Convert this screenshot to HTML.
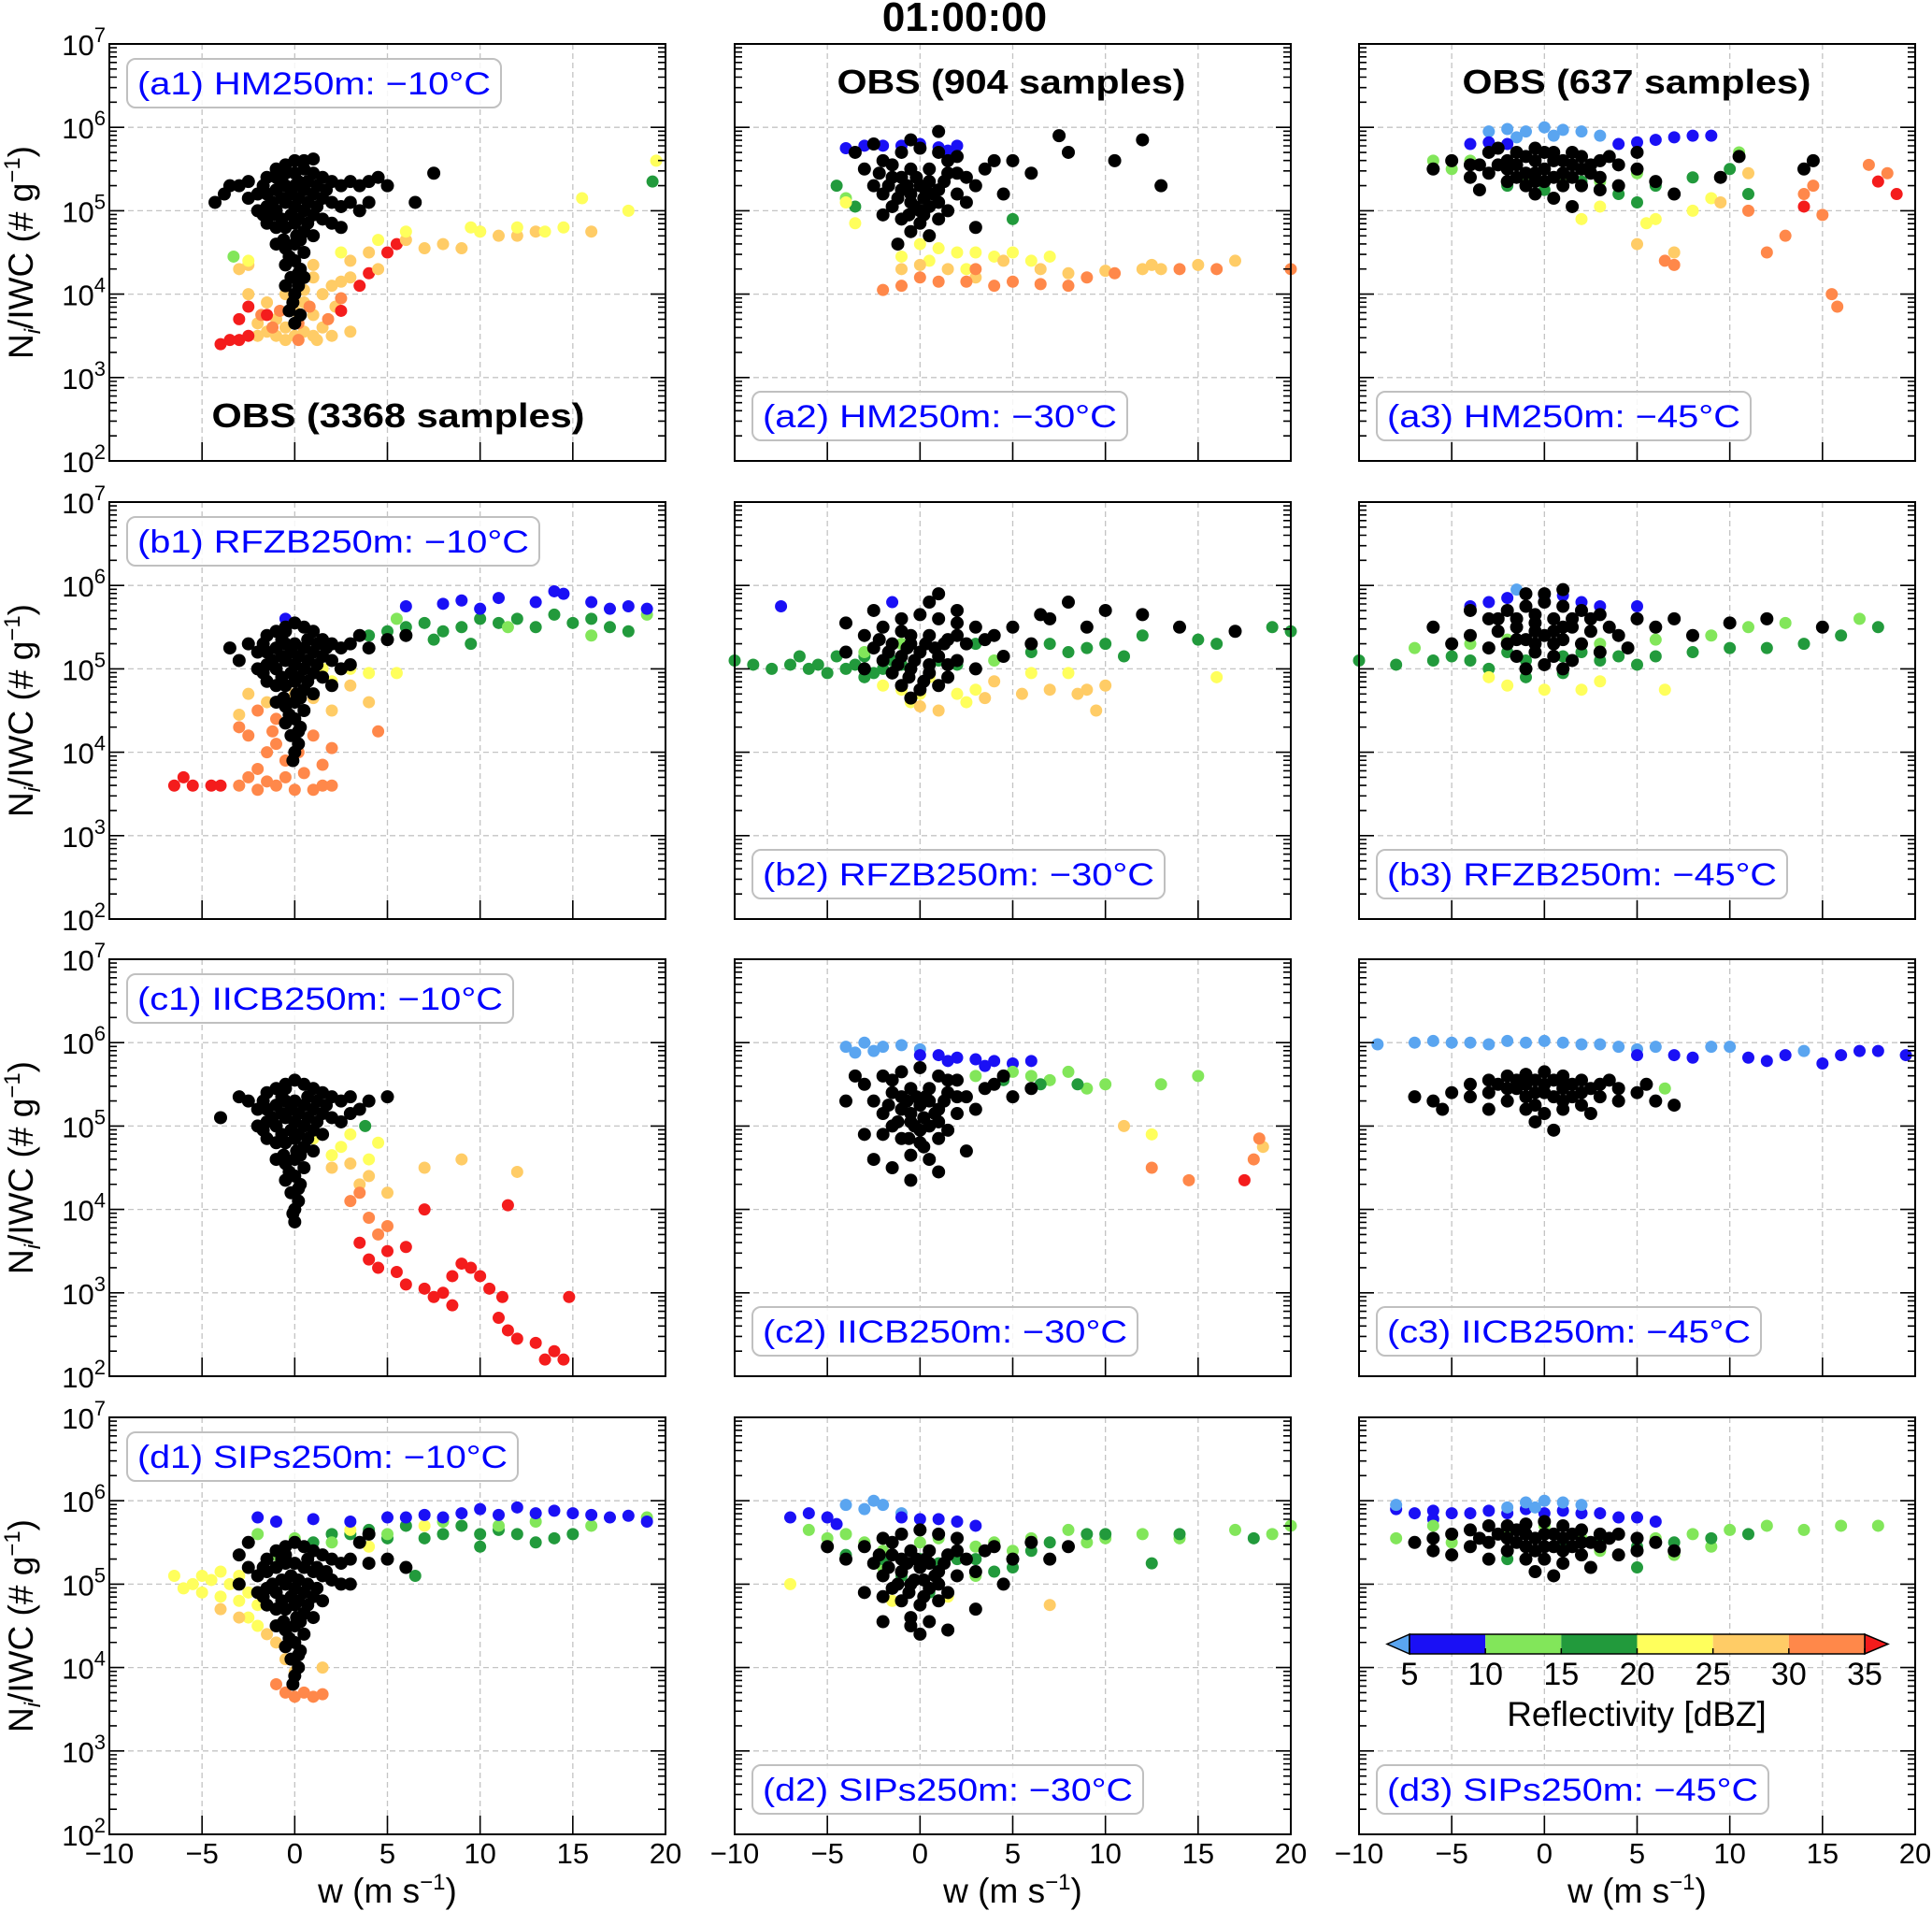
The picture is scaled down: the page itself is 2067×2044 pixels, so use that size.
<!DOCTYPE html>
<html><head><meta charset="utf-8"><style>
html,body{margin:0;padding:0;background:#fff}
svg{display:block}
text{font-family:"Liberation Sans","DejaVu Sans",sans-serif}
</style></head><body>
<svg id="fig" width="2067" height="2044" viewBox="0 0 2067 2044" xmlns="http://www.w3.org/2000/svg">
<text x="1032" y="33" font-size="44" font-weight="bold" text-anchor="middle">01:00:00</text>
</svg>
<script>
function P(s){return s.trim().split(/\s+/).map(function(t){return t.split(',').map(Number);});}
// observation clouds: [w, log10(Ni/IWC)]
const obsA1 = P("-1.5,5.4 -1,5.5 -0.5,5.55 0,5.6 0.5,5.5 1,5.45 1.5,5.4 2,5.35 2.5,5.3 3,5.35 3.5,5.3 4,5.35 4.5,5.4 5,5.3 -2,5.2 -1.5,5.2 -1,5.25 -0.5,5.3 0,5.3 0.5,5.25 1,5.2 1.5,5.15 2,5.1 2.5,5.05 3,5.1 3.5,5.0 4,5.1 -2,5.0 -1.5,5.05 -1,5.0 -0.5,5.1 0,5.05 0.5,5.0 1,4.95 1.5,4.9 2,4.85 2.5,4.8 -1.5,4.85 -1,4.8 -0.5,4.8 0,4.85 0.5,4.75 1,4.7 -1,4.6 -0.5,4.55 0,4.6 0.5,4.5 -0.5,4.35 0,4.4 0.3,4.3 -0.2,4.2 0.2,4.1 0,4.0 -0.3,3.8 0.3,3.75 -1,5.4 0,5.45 -2.5,5.35 -3,5.3 -2.5,5.15 -4.3,5.1 -3.5,5.3 -3.8,5.2 6.5,5.1 7.5,5.45 1,5.62 0.5,5.6 -0.7,5.15 0.7,5.1 -0.2,4.95 0.3,4.65 -1.2,4.95 1.2,5.3 -0.5,5.45 0.2,5.35 -1.7,5.3 -1.2,5.1 -0.7,5.35 -0.2,5.2 0.2,5.15 0.7,5.35 1.2,5.05 1.7,5.25 -1.7,4.95 -0.7,4.9 0.2,4.9 0.7,4.85 -0.6,4.65 0.1,4.7 -0.3,4.45 0.2,4.25 -0.1,3.9 0,3.65 -0.5,4.1 0.5,4.2");
const obsA2 = P("-3,5.5 -2,5.6 -1,5.7 0,5.75 1,5.7 2,5.65 -2.5,5.3 -1.5,5.4 -0.5,5.5 0.5,5.5 1.5,5.45 2.5,5.4 3.5,5.5 -2,5.2 -1,5.25 0,5.3 1,5.25 2,5.2 -1.5,5.05 -0.5,5.1 0.5,5.05 1.5,5.0 2.5,5.1 -1,4.9 0,4.85 1,4.9 -0.5,4.75 0.5,4.7 -2,4.95 3,5.3 4,5.6 5,5.6 6,5.45 -3.5,5.7 -2.5,5.8 -0.5,5.85 1,5.95 7.5,5.9 10.5,5.6 12,5.85 13,5.3 8,5.7 3,4.8 -1.2,4.6 0.2,5.15 -0.2,5.4 4.5,5.2 -1,5.4 0.5,5.35 -0.5,5.2 1,5.1 0,5.0 -1.5,5.55 1.5,5.6 -1.7,5.3 -0.7,5.3 0.3,5.25 0.7,5.2 -0.3,5.05 -1.2,5.15 1.3,5.35 0.2,4.95 -0.6,4.95 2,5.45 -2.2,5.45");
const obsA3 = P("-6,5.5 -5,5.6 -4,5.55 -3,5.7 -2,5.6 -1,5.65 0,5.7 1,5.6 2,5.65 3,5.6 4,5.55 5,5.5 -4,5.4 -3,5.45 -2,5.5 -1,5.45 0,5.5 1,5.45 2,5.5 3,5.4 -2,5.35 -1,5.3 0,5.35 1,5.3 2,5.3 -0.5,5.2 0.5,5.15 -3.5,5.25 4,5.3 6,5.35 7,5.2 9.5,5.4 10.5,5.65 14,5.5 14.5,5.6 -2.5,5.75 0.5,5.6 1.5,5.05 -0.5,5.75 1.5,5.7 -1.5,5.55 5,5.7 3,5.25 -0.5,5.6 0.5,5.4 -1.5,5.4 2.5,5.55 -2.5,5.55 -1.5,5.7 -0.5,5.45 0.5,5.7 1.5,5.55 2.5,5.45 3.5,5.65 -3.5,5.55 -0.5,5.35 1.5,5.4");
const obsB1 = P("-1.5,5.4 -1,5.45 -0.5,5.5 0,5.55 0.5,5.5 1,5.45 1.5,5.35 2,5.3 2.5,5.25 3,5.3 4,5.25 -2,5.2 -1.5,5.2 -1,5.25 -0.5,5.3 0,5.3 0.5,5.25 1,5.2 1.5,5.15 2,5.1 2.5,5.0 3,5.05 -2,5.0 -1.5,5.05 -1,5.0 -0.5,5.1 0,5.05 0.5,5.0 1,4.95 1.5,4.9 2,4.8 -1.5,4.85 -1,4.8 -0.5,4.8 0,4.85 0.5,4.75 1,4.7 -1,4.6 -0.5,4.55 0,4.6 0.5,4.5 -0.5,4.35 0,4.4 0.3,4.3 -0.2,4.2 0.2,4.1 0,4.0 -2.5,5.3 -3.5,5.25 -3,5.1 5,5.35 6,5.4 -0.7,5.15 0.7,5.1 -0.2,4.95 0.3,4.65 1.2,5.3 -0.5,5.45 3.5,5.4 -1.7,5.3 -1.2,5.1 -0.7,5.35 -0.2,5.2 0.2,5.15 0.7,5.35 1.2,5.05 1.7,5.25 -1.7,4.95 -0.7,4.9 0.2,4.9 0.7,4.85 -0.6,4.65 0.1,4.7 -0.3,4.45 0.2,4.25 -0.1,3.9");
const obsB2 = P("-3,5.4 -2,5.5 -1,5.6 0,5.65 1,5.6 2,5.55 3,5.5 -2.5,5.25 -1.5,5.3 -0.5,5.4 0.5,5.4 1.5,5.35 2.5,5.3 3.5,5.35 -2,5.1 -1,5.15 0,5.2 1,5.15 2,5.1 -1.5,4.95 -0.5,5.0 0.5,4.95 1.5,4.9 -1,4.8 0,4.75 1,4.8 -0.5,4.65 -4,5.2 4,5.4 5,5.5 6,5.3 7,5.6 -4,5.55 -2.5,5.7 0.5,5.8 1,5.9 8,5.8 9,5.5 10,5.7 12,5.65 14,5.5 17,5.45 3,5.0 -0.5,5.3 0.5,5.05 -1,5.45 4.5,5.15 -3,5.0 6.5,5.65 2,5.7 -1.7,5.2 -0.7,5.25 0.3,5.3 0.8,5.25 -0.3,5.1 -1.2,5.05 1.3,5.3 0.2,4.85 -0.6,4.9 2,5.4 -2.2,5.35 1.5,5.05");
const obsB3 = P("-3,5.6 -2,5.7 -1,5.75 0,5.8 1,5.75 2,5.7 3,5.65 -2.5,5.45 -1.5,5.5 -0.5,5.55 0.5,5.6 1.5,5.5 2.5,5.45 3.5,5.5 -2,5.3 -1,5.35 0,5.4 1,5.35 2,5.3 -1.5,5.15 -0.5,5.2 0.5,5.15 1.5,5.1 -1,5.0 0,5.05 1,5.0 -4,5.4 4,5.4 5,5.6 6,5.5 7,5.6 -4,5.7 -1,5.9 1,5.95 -5,5.3 8,5.4 10,5.55 12,5.6 15,5.5 -6,5.5 3,5.2 -0.5,5.65 0.5,5.45 -1.5,5.6 4.5,5.25 -3,5.25 0,5.9 -2.5,5.6 -1.5,5.35 -0.5,5.45 0.5,5.3 1.5,5.6 2.5,5.6 -0.5,5.3 1,5.5");
const obsC1 = P("-1.5,5.4 -1,5.45 -0.5,5.5 0,5.55 0.5,5.5 1,5.45 1.5,5.4 2,5.35 2.5,5.3 3,5.35 4,5.3 5,5.35 -2,5.2 -1.5,5.2 -1,5.25 -0.5,5.3 0,5.3 0.5,5.25 1,5.2 1.5,5.15 2,5.1 2.5,5.05 3,5.15 -2,5.0 -1.5,5.05 -1,5.0 -0.5,5.1 0,5.05 0.5,5.0 1,4.95 1.5,4.9 -1.5,4.85 -1,4.8 -0.5,4.8 0,4.85 0.5,4.75 1,4.7 -1,4.6 -0.5,4.55 0,4.6 0.5,4.5 -0.5,4.35 0,4.4 0.3,4.3 -0.2,4.2 0.2,4.1 0,4.0 0,3.85 -2.5,5.3 -4,5.1 -3,5.35 -0.7,5.15 0.7,5.1 -0.2,4.95 0.3,4.65 1.2,5.3 -0.5,5.45 3.5,5.2 -1.7,5.3 -1.2,5.1 -0.7,5.35 -0.2,5.2 0.2,5.15 0.7,5.35 1.2,5.05 1.7,5.25 -1.7,4.95 -0.7,4.9 0.2,4.9 0.7,4.85 -0.6,4.65 0.1,4.7 -0.3,4.45 0.2,4.25 -0.1,3.95");
const obsC2 = P("-3,5.5 -2,5.6 -1,5.65 0,5.7 1,5.6 2,5.55 -2.5,5.3 -1.5,5.4 -0.5,5.45 0.5,5.45 1.5,5.4 2.5,5.35 3.5,5.45 -2,5.15 -1,5.2 0,5.25 1,5.2 2,5.15 -1.5,5.0 -0.5,5.05 0.5,5.0 1.5,4.95 -1,4.85 0,4.8 1,4.85 -0.5,4.65 0.5,4.6 -2,4.9 3,5.2 4,5.5 5,5.35 -3.5,5.6 -4,5.3 -3,4.9 -2.5,4.6 -1.5,4.5 1,4.45 -0.5,4.35 2.5,4.7 4.5,5.6 6,5.45 0.2,5.1 -0.2,5.35 -1,5.35 0.5,5.3 -0.5,5.15 1,5.05 0,4.95 -1.5,5.55 1.5,5.55 -1.7,5.25 -0.7,5.3 0.3,5.35 0.8,5.15 -0.3,5.0 -1.2,5.05 1.3,5.3 0.2,4.75 -0.6,4.85 2,5.35");
const obsC3 = P("-6,5.3 -5,5.4 -4,5.5 -3,5.55 -2,5.6 -1,5.62 0,5.65 1,5.6 2,5.55 3,5.5 4,5.45 5,5.4 6,5.3 -4,5.35 -3,5.4 -2,5.45 -1,5.5 0,5.5 1,5.45 2,5.4 3,5.35 -2,5.3 -1,5.35 0,5.4 1,5.3 2,5.25 -1,5.2 0,5.15 1,5.2 -0.5,5.05 0.5,4.95 -3,5.2 4,5.3 7,5.25 -7,5.35 -5.5,5.2 -0.5,5.55 0.5,5.55 -1.5,5.45 1.5,5.5 2.5,5.15 3.5,5.55 5.5,5.5 -2.5,5.5 -1.5,5.55 -0.5,5.4 0.5,5.35 1.5,5.35 2.5,5.45 -0.5,5.25 1,5.5");
const obsD1 = P("-1.5,5.3 -1,5.4 -0.5,5.45 0,5.5 0.5,5.45 1,5.4 1.5,5.35 2,5.3 2.5,5.25 3,5.3 4,5.25 5,5.3 -2,5.1 -1.5,5.15 -1,5.2 -0.5,5.25 0,5.25 0.5,5.2 1,5.15 1.5,5.1 2,5.05 2.5,5.0 3,5.0 -2,4.9 -1.5,4.95 -1,4.9 -0.5,5.0 0,4.95 0.5,4.9 1,4.85 1.5,4.8 -1.5,4.75 -1,4.7 -0.5,4.7 0,4.75 0.5,4.65 1,4.6 -1,4.5 -0.5,4.45 0,4.5 0.5,4.4 -0.5,4.25 0,4.3 0.3,4.2 -0.2,4.1 0.2,4.0 0,3.9 -2.5,5.2 -3,5.35 -2.5,5.5 3.5,5.5 4,5.6 6,5.2 -0.7,5.05 0.7,5.0 -0.2,4.85 0.3,4.55 1.2,5.2 -0.5,5.35 -3,5.0 -1.7,5.2 -1.2,5.0 -0.7,5.3 -0.2,5.1 0.2,5.05 0.7,5.3 1.2,4.95 1.7,5.15 -1.7,4.85 -0.7,4.8 0.2,4.8 0.7,4.75 -0.6,4.55 0.1,4.6 -0.3,4.35 0.2,4.15 -0.1,3.8");
const obsD2 = P("-3,5.45 -2,5.55 -1,5.6 0,5.65 1,5.6 2,5.55 -2.5,5.25 -1.5,5.35 -0.5,5.4 0.5,5.4 1.5,5.35 2.5,5.3 3.5,5.4 -2,5.1 -1,5.15 0,5.2 1,5.15 2,5.1 -1.5,4.95 -0.5,5.0 0.5,4.95 1.5,4.9 -1,4.8 0,4.75 1,4.8 -0.5,4.6 0.5,4.55 -2,4.85 3,5.15 4,5.45 5,5.3 6,5.5 -4,5.3 -5,5.45 -3,4.9 -2,4.55 1.5,4.45 0,4.4 -0.5,4.5 3,4.7 4.5,5.0 -0.2,5.3 0.2,5.05 -1,5.3 0.5,5.25 1,5.0 -1.5,5.5 7,5.3 8,5.45 -1.7,5.2 -0.7,5.25 0.3,5.3 0.8,5.1 -0.3,5.05 -1.2,5.0 1.3,5.25 0.2,4.85 -0.6,4.9 2,5.4 -2.2,5.35");
const obsD3 = P("-7,5.5 -6,5.55 -5,5.6 -4,5.65 -3,5.7 -2,5.7 -1,5.72 0,5.75 1,5.7 2,5.65 3,5.6 4,5.6 5,5.55 6,5.5 -4,5.45 -3,5.5 -2,5.55 -1,5.6 0,5.6 1,5.55 2,5.5 3,5.45 -2,5.4 -1,5.45 0,5.45 1,5.4 2,5.35 -1,5.3 0,5.3 1,5.25 -0.5,5.15 0.5,5.1 -3,5.3 4,5.35 7,5.4 -5,5.35 -6,5.4 -0.5,5.55 0.5,5.6 -1.5,5.5 1.5,5.45 2.5,5.2 3.5,5.55 5,5.4 -2.5,5.6 -1.5,5.65 -0.5,5.4 0.5,5.45 1.5,5.6 2.5,5.5 -3.5,5.55");
// model points: [w, log10(Ni/IWC), reflectivity dBZ]
const modA1 = P("-2,3.5,28 -1.5,3.55,28 -1,3.5,28 -0.5,3.6,28 0,3.5,28 0.5,3.55,28 1,3.5,28 1.5,3.6,28 2,3.5,28 -1,3.7,28 0,3.8,28 0.5,3.9,28 1,3.75,28 1.5,4.0,28 2,4.1,28 2.5,4.15,28 3,4.2,28 -1.5,3.9,28 -2.5,4.0,28 -2,3.65,28 1,4.2,28 0.5,4.05,28 -0.5,4.0,28 2.2,3.85,28 3,3.55,28 -0.5,3.45,28 1.2,3.45,28 -1.2,3.6,32 0.2,3.65,32 0.8,3.85,32 1.8,3.7,32 2.5,3.95,32 -0.8,3.8,32 -1.8,3.75,32 0.2,3.45,32 -4,3.4,36 -3.5,3.45,36 -3,3.45,36 -2.5,3.5,36 -3,3.7,36 -2.5,3.85,36 -1.5,3.75,36 3.5,4.1,36 2.5,3.8,36 5,4.5,36 4,4.25,36 5.5,4.6,36 1,4.35,27 3,4.4,27 4,4.5,27 6,4.65,27 7,4.55,27 8,4.6,27 10,4.75,27 11,4.7,27 12,4.7,27 13,4.75,27 16,4.75,27 -3,4.3,27 -2.5,4.35,27 4.5,4.3,27 9,4.55,27 2.5,4.5,22 4.5,4.65,22 9.5,4.8,22 10,4.75,22 12,4.8,22 13.5,4.75,22 14.5,4.8,22 15.5,5.15,22 18,5.0,22 19.5,5.6,22 -2.5,4.4,22 6,4.75,22 19.3,5.35,17 -3.3,4.45,12");
const modA2 = P("-4,5.75,7 -3,5.78,7 -2,5.78,7 -1,5.78,7 0,5.8,7 1,5.76,7 2,5.78,7 -3.5,5.7,7 1.5,5.72,7 -4.5,5.3,17 -3.5,5.05,17 5,4.9,17 1,4.9,17 -4,5.15,12 0,4.6,22 1,4.55,22 2,4.5,22 3,4.5,22 4,4.45,22 5,4.5,22 6,4.4,22 -1,4.45,22 -4,5.1,22 0.5,4.4,22 2.5,4.3,22 7,4.45,22 -3.5,4.85,22 -1,4.3,27 0,4.35,27 1.5,4.3,27 3,4.2,27 4.5,4.4,27 6.5,4.3,27 8,4.25,27 10,4.28,27 12,4.3,27 13,4.3,27 15,4.35,27 17,4.4,27 12.5,4.35,27 -2,4.05,32 -1,4.1,32 0,4.2,32 1,4.15,32 2.5,4.15,32 4,4.1,32 5,4.15,32 6.5,4.12,32 8,4.1,32 9,4.2,32 10.5,4.25,32 14,4.3,32 16,4.3,32 20,4.3,32 3,4.3,32");
const modA3 = P("-3,5.95,2 -2,5.98,2 -1,5.95,2 0,6.0,2 1,5.97,2 2,5.95,2 3,5.9,2 -1.5,5.88,2 0.5,5.9,2 -4,5.8,7 -3,5.82,7 4,5.8,7 5,5.82,7 6,5.85,7 7,5.88,7 8,5.9,7 9,5.9,7 -2,5.8,7 -6,5.6,12 -5,5.5,12 -3,5.45,12 -1,5.35,12 1,5.4,12 3,5.35,12 5,5.45,12 10.5,5.7,12 -4,5.6,12 -2,5.3,17 0,5.25,17 2,5.35,17 4,5.2,17 6,5.3,17 8,5.4,17 10,5.5,17 5,5.1,17 11,5.2,17 3,5.05,22 5.5,4.85,22 6,4.9,22 8,5.0,22 9,5.15,22 2,4.9,22 5,4.6,27 9.5,5.1,27 11,5.45,27 7,4.5,27 6.5,4.4,32 7,4.35,32 12,4.5,32 13,4.7,32 15,4.95,32 14.5,5.3,32 17.5,5.55,32 18.5,5.45,32 11,5.0,32 14,5.2,32 14,5.05,36 15.5,4.0,32 15.8,3.85,32 18,5.35,36 19,5.2,36");
const modB1 = P("-3,3.6,32 -2,3.55,32 -1,3.6,32 0,3.55,32 1,3.55,32 2,3.6,32 -2,3.8,32 -1.5,4.0,32 -1,4.1,32 -2.5,4.2,32 -0.5,3.9,32 1.5,3.85,32 1,4.2,32 2,4.05,32 -3,4.3,32 -2,4.5,32 -1,4.4,32 -0.5,3.7,32 0.5,3.75,32 -1.5,3.65,32 -2.5,3.7,32 0.2,4.0,32 -1.2,4.25,32 1.5,3.6,32 -6.5,3.6,36 -6,3.7,36 -5.5,3.6,36 -4.5,3.6,36 -4,3.6,36 -3,4.45,27 -1.5,4.6,27 0,4.7,27 1,4.65,27 2,4.5,27 3,4.8,27 4,4.6,27 -2.5,4.7,27 2,4.85,22 3,5.0,22 4,4.95,22 1.5,5.0,22 5.5,4.95,22 4.5,4.25,32 3,5.3,17 4,5.4,17 5,5.45,17 6,5.5,17 7,5.55,17 8,5.45,17 9,5.5,17 10,5.6,17 11,5.55,17 12,5.6,17 13,5.5,17 14,5.65,17 15,5.55,17 16,5.6,17 17,5.5,17 18,5.45,17 7.5,5.35,17 9.5,5.3,17 5.5,5.6,12 11.5,5.5,12 16,5.4,12 19,5.65,12 6,5.75,7 8,5.78,7 9,5.82,7 11,5.85,7 13,5.8,7 14,5.93,7 14.5,5.9,7 16,5.8,7 17,5.72,7 18,5.75,7 19,5.72,7 10,5.72,7 -0.5,5.6,7");
const modB2 = P("-10,5.1,17 -9,5.05,17 -8,5.0,17 -7,5.05,17 -6,5.0,17 -5,4.95,17 -4,5.0,17 -3,4.9,17 -2,5.0,17 -6.5,5.15,17 -4.5,5.15,17 -3,5.15,17 -1,5.05,17 1,5.1,17 2,5.05,17 6,5.2,17 7,5.3,17 8,5.2,17 9,5.25,17 10,5.3,17 12,5.4,17 15,5.35,17 16,5.3,17 17,5.45,17 19,5.5,17 20,5.45,17 11,5.15,17 3,5.3,17 -5.5,5.05,17 -3.5,5.05,17 -2.5,4.95,17 -1.5,5.1,17 -3,5.2,12 -1,5.3,12 4,5.1,12 -1,4.75,22 0,4.7,22 1,4.8,22 2,4.7,22 3,4.75,22 -0.5,4.6,22 0.5,4.9,22 2.5,4.6,22 -2,4.8,22 6,4.95,22 8,4.95,22 16,4.9,22 0,4.55,27 1,4.5,27 3.5,4.65,27 5.5,4.7,27 7,4.75,27 8.5,4.7,27 9,4.75,27 10,4.8,27 4,4.85,27 9.5,4.5,27 -7.5,5.75,7 -1.5,5.8,7");
const modB3 = P("-10,5.1,17 -8,5.05,17 -6,5.1,17 -5,5.15,17 -4,5.1,17 -3,5.0,17 -2,5.2,17 -1,5.1,17 0,5.05,17 1,5.15,17 2,5.2,17 3,5.1,17 4,5.15,17 5,5.05,17 6,5.15,17 8,5.2,17 10,5.25,17 12,5.25,17 14,5.3,17 16,5.4,17 18,5.5,17 -1,4.9,17 1,4.95,17 -7,5.25,12 -4,5.3,12 -2,5.35,12 3,5.3,12 6,5.35,12 9,5.4,12 11,5.5,12 13,5.55,12 17,5.6,12 -2,4.8,22 0,4.75,22 2,4.75,22 3,4.85,22 6.5,4.75,22 -3,4.9,22 -4,5.75,7 -3,5.8,7 -2,5.85,7 -1,5.9,7 0,5.88,7 1,5.88,7 2,5.8,7 3,5.75,7 5,5.75,7 -1.5,5.95,2");
const modC1 = P("1,4.85,22 2,4.65,22 2.5,4.75,22 3,4.9,22 4,4.6,22 4.5,4.8,22 2,4.5,27 3,4.55,27 3.5,4.3,27 4,4.4,27 5,4.2,27 7,4.5,27 9,4.6,27 12,4.45,27 3,4.1,32 4,3.9,32 4.5,3.7,32 5,3.8,32 3.5,4.2,32 4,3.4,36 4.5,3.3,36 5,3.5,36 5.5,3.25,36 6,3.1,36 7,3.05,36 7.5,2.95,36 8,3.0,36 8.5,2.85,36 8.5,3.2,36 9,3.35,36 9.5,3.3,36 10,3.2,36 10.5,3.05,36 11,2.7,36 11.2,2.95,36 11.5,2.55,36 12,2.45,36 13,2.4,36 14,2.3,36 14.5,2.2,36 13.5,2.2,36 14.8,2.95,36 11.5,4.05,36 7,4.0,36 6,3.55,36 3.5,3.6,36 3.8,5.0,17 -2,5.0,12");
const modC2 = P("-4,5.95,2 -3,6.0,2 -2,5.95,2 -1,5.97,2 0,5.92,2 -3.5,5.88,2 -2.5,5.9,2 0,5.85,7 1,5.85,7 2,5.82,7 3,5.8,7 4,5.78,7 5,5.75,7 6,5.78,7 1.5,5.78,7 3.5,5.72,7 3,5.6,12 4,5.5,12 5,5.65,12 6,5.6,12 7,5.55,12 8,5.65,12 9,5.45,12 10,5.5,12 13,5.5,12 15,5.6,12 4.5,5.55,17 6.5,5.5,17 8.5,5.5,17 12.5,4.9,22 11,5.0,27 18.5,4.75,27 12.5,4.5,32 14.5,4.35,32 18,4.6,32 18.3,4.85,32 17.5,4.35,36");
const modC3 = P("-9,5.98,2 -7,6.0,2 -6,6.02,2 -5,6.0,2 -4,6.0,2 -3,5.98,2 -2,6.02,2 -1,6.0,2 0,6.02,2 1,6.0,2 2,5.98,2 3,5.98,2 4,5.95,2 5,5.92,2 6,5.95,2 9,5.95,2 10,5.95,2 14,5.9,2 5,5.85,7 7,5.85,7 8,5.82,7 11,5.82,7 12,5.78,7 13,5.85,7 15,5.75,7 16,5.85,7 17,5.9,7 18,5.9,7 19.5,5.85,7 6.5,5.45,12");
const modD1 = P("-6.5,5.1,22 -6,4.95,22 -5.5,5.0,22 -5,4.9,22 -4.5,5.05,22 -4,4.85,22 -3.5,5.0,22 -3,4.8,22 -2.5,4.9,22 -2,4.75,22 -4,5.15,22 -5,5.1,22 -3,5.1,22 -2.5,4.6,22 -2,4.5,22 -1,4.3,27 -0.5,4.1,27 0,3.95,27 -4,4.7,27 -3,4.6,27 -1.5,4.4,27 1.5,4.0,27 -0.5,3.7,32 0,3.65,32 0.5,3.7,32 1,3.65,32 1.5,3.68,32 -1,3.8,32 1,5.5,17 2,5.6,17 3,5.6,17 4,5.65,17 5,5.55,17 6,5.7,17 7,5.55,17 8,5.6,17 9,5.7,17 10,5.6,17 11,5.65,17 12,5.6,17 13,5.5,17 14,5.55,17 15,5.6,17 6.5,5.1,17 10,5.45,17 -2,5.6,12 0,5.55,12 2,5.5,12 5,5.6,12 8,5.75,12 11,5.7,12 13,5.75,12 16,5.7,12 19,5.8,12 -1,5.35,12 3,5.65,22 4,5.45,22 7,5.7,22 -2,5.8,7 -1,5.75,7 1,5.78,7 3,5.75,7 5,5.8,7 6,5.8,7 7,5.83,7 8,5.8,7 9,5.85,7 10,5.9,7 11,5.83,7 12,5.92,7 13,5.85,7 14,5.88,7 15,5.85,7 16,5.83,7 17,5.8,7 18,5.82,7 19,5.75,7");
const modD2 = P("-4,5.95,2 -3,5.9,2 -2.5,6.0,2 -2,5.95,2 -1,5.85,2 -7,5.8,7 -6,5.85,7 -5,5.8,7 -1,5.8,7 0,5.78,7 1,5.78,7 2,5.75,7 3,5.7,7 -4.5,5.72,7 -6,5.65,12 -5,5.55,12 -4,5.6,12 -3,5.5,12 -2,5.4,12 -1,5.6,12 0,5.5,12 1,5.55,12 2,5.4,12 3,5.45,12 4,5.5,12 5,5.4,12 6,5.55,12 8,5.65,12 9,5.5,12 10,5.55,12 12,5.6,12 14,5.55,12 17,5.65,12 19,5.6,12 20,5.7,12 -2,5.2,12 1,5.0,12 3,5.1,12 -4,5.35,17 -2,5.3,17 -1,5.1,17 0,5.3,17 1,5.25,17 2,5.3,17 3,5.3,17 4,5.15,17 5,5.2,17 6,5.4,17 7,5.5,17 9,5.6,17 10,5.6,17 12.5,5.25,17 14,5.6,17 18,5.55,17 -3,5.45,17 0.5,4.9,17 -7,5.0,22 -1.5,4.8,22 1.5,4.85,22 7,4.75,27");
const modD3 = P("-8,5.9,7 -7,5.85,7 -6,5.88,7 -5,5.85,7 -4,5.85,7 -3,5.88,7 -2,5.85,7 -1,5.9,7 0,5.85,7 1,5.88,7 2,5.85,7 3,5.85,7 4,5.8,7 5,5.8,7 6,5.75,7 -6,5.78,7 -8,5.95,2 -2,5.92,2 -1,5.98,2 0,6.0,2 1,5.98,2 2,5.95,2 -0.5,5.92,2 -6,5.7,12 -4,5.65,12 -2,5.6,12 0,5.7,12 2,5.55,12 4,5.6,12 6,5.55,12 8,5.6,12 10,5.65,12 12,5.7,12 14,5.65,12 16,5.7,12 18,5.7,12 -8,5.55,12 -5,5.5,12 3,5.4,12 7,5.35,12 9,5.45,12 -3,5.5,17 -1,5.45,17 1,5.5,17 3,5.55,17 5,5.45,17 7,5.5,17 9,5.55,17 11,5.6,17 -2,5.3,17 5,5.2,17");
const xTicks = [-10,-5,0,5,10,15,20];
const yDecades = [2,3,4,5,6,7];
const cbTicks = [5,10,15,20,25,30,35];
const cbColors = ["#1a10f5","#82e65a","#229a3c","#ffff5c","#ffcc66","#ff884a"];
const labels = [["(a1) HM250m: −10°C","(a2) HM250m: −30°C","(a3) HM250m: −45°C"],
 ["(b1) RFZB250m: −10°C","(b2) RFZB250m: −30°C","(b3) RFZB250m: −45°C"],
 ["(c1) IICB250m: −10°C","(c2) IICB250m: −30°C","(c3) IICB250m: −45°C"],
 ["(d1) SIPs250m: −10°C","(d2) SIPs250m: −30°C","(d3) SIPs250m: −45°C"]];
const obsSets=[[obsA1,obsA2,obsA3],[obsB1,obsB2,obsB3],[obsC1,obsC2,obsC3],[obsD1,obsD2,obsD3]];
const modSets=[[modA1,modA2,modA3],[modB1,modB2,modB3],[modC1,modC2,modC3],[modD1,modD2,modD3]];

const NS="http://www.w3.org/2000/svg";
const svg=document.getElementById('fig');
function mk(tag,at,parent){const e=document.createElementNS(NS,tag);for(const k in at)e.setAttribute(k,at[k]);(parent||svg).appendChild(e);return e;}
const colL=[117,786,1454], rowT=[47,537,1026,1516], W=595, H=446;
const boxW=[[400,0,0],[441,0,0],[413,0,0],[418,0,0]];
const boxW2=[[0,401,400],[0,441,439],[0,412,411],[0,418,419]];
function zColor(z){if(z<5)return "#5aa5f0";if(z>=35)return "#f41c1c";return cbColors[Math.floor((z-5)/5)];}
function sup(t,base,exp){const a=document.createElementNS(NS,'tspan');a.textContent=base;t.appendChild(a);const b=document.createElementNS(NS,'tspan');b.setAttribute('dy','-14');b.setAttribute('font-size','22');b.textContent=exp;t.appendChild(b);}

for(let r=0;r<4;r++)for(let c=0;c<3;c++){
 const L=colL[c],T=rowT[r];
 const xs=w=>L+(w+10)/30*W, ys=l=>T+(7-l)/5*H;
 const g=mk('g',{});
 
 
 for(const x of xTicks.slice(1,-1)){const ln=mk('line',{x1:xs(x),x2:xs(x),y1:T,y2:T+H,stroke:'#c4c4c4','stroke-width':1.3,'stroke-dasharray':'6,4'},g);}
 for(const d of yDecades.slice(1,-1)){const ln=mk('line',{x1:L,x2:L+W,y1:ys(d),y2:ys(d),stroke:'#c4c4c4','stroke-width':1.3,'stroke-dasharray':'6,4'},g);}
 for(const p of modSets[r][c]){const ci=mk('circle',{cx:xs(p[0]),cy:ys(p[1]),r:6.5,fill:zColor(p[2])},g);}
 for(const p of obsSets[r][c]){const ci=mk('circle',{cx:xs(p[0]),cy:ys(p[1]),r:7,fill:'#000'},g);}
 let d='';
 for(const x of xTicks.slice(1,-1)){d+='M'+xs(x)+' '+(T+H)+'v-20';}
 for(let dec=2;dec<7;dec++){for(let m=1;m<10;m++){const y=ys(dec+Math.log10(m));const len=m==1?16:8;d+='M'+L+' '+y+'h'+len+'M'+(L+W)+' '+y+'h-'+len;}}
 const tk=mk('path',{d:d,stroke:'#000','stroke-width':1.6,fill:'none'},g);
 const fr=mk('rect',{x:L,y:T,width:W,height:H,fill:'none',stroke:'#000','stroke-width':2},g);
 if(c==0){for(const dec of yDecades){const t=mk('text',{x:L-4,y:ys(dec)+12,'font-size':31,'text-anchor':'end'},g);sup(t,'10',String(dec));}
  const yl=mk('text',{transform:'translate(35,'+(T+H/2)+') rotate(-90)','font-size':37,'text-anchor':'middle'},g);
  
  yl.innerHTML='N<tspan font-style="italic" font-size="24" dy="8">i</tspan><tspan dy="-8">/IWC (# g</tspan><tspan font-size="24" dy="-14">−1</tspan><tspan dy="14">)</tspan>';}
 if(r==3){for(const x of xTicks){const t=mk('text',{x:xs(x),y:T+H+31,'font-size':31,'text-anchor':'middle'},g);t.textContent=(x<0?'−':'')+Math.abs(x);}
  const xl=mk('text',{x:L+W/2,y:2035,'font-size':37,'text-anchor':'middle'},g);
  xl.innerHTML='w (m s<tspan font-size="24" dy="-14">−1</tspan><tspan dy="14">)</tspan>';}
 const top=(c==0);const bw=top?boxW[r][0]:boxW2[r][c];const bx=L+19,by=top?T+16:T+H-74;
 const lb=mk('rect',{x:bx,y:by,width:bw,height:52,rx:9,fill:'#fff','fill-opacity':0.85,stroke:'#c0c0c0','stroke-width':2},g);
 const lt=mk('text',{x:bx+11,y:by+38,'font-size':34,fill:'#0000ff',textLength:bw-22,lengthAdjust:'spacingAndGlyphs'},g);lt.textContent=labels[r][c];
}
[[426,457,'OBS (3368 samples)',399],[1082,100,'OBS (904 samples)',373],[1751,100,'OBS (637 samples)',373]].forEach(function(o){
 const t=mk('text',{x:o[0],y:o[1],'font-size':36,'font-weight':'bold','text-anchor':'middle',textLength:o[3],lengthAdjust:'spacingAndGlyphs'});t.textContent=o[2];
 });
const cg=mk('g',{});


const cbx0=1508,cbx1=1995,cby=1748,cbh=21,seg=(cbx1-cbx0)/6;
const lo=mk('polygon',{points:cbx0+','+cby+' '+cbx0+','+(cby+cbh)+' 1484,'+(cby+cbh/2),fill:'#5aa5f0',stroke:'#000','stroke-width':1.5},cg);
const hi=mk('polygon',{points:cbx1+','+cby+' '+cbx1+','+(cby+cbh)+' 2020,'+(cby+cbh/2),fill:'#f41c1c',stroke:'#000','stroke-width':1.5},cg);
cbColors.forEach(function(col,i){const rr=mk('rect',{x:cbx0+i*seg,y:cby,width:seg,height:cbh,fill:col},cg);});
const cbf=mk('rect',{x:cbx0,y:cby,width:cbx1-cbx0,height:cbh,fill:'none',stroke:'#000','stroke-width':1.5},cg);
cbTicks.forEach(function(v,i){const x=cbx0+(v-5)/30*(cbx1-cbx0);
 const l=mk('line',{x1:x,x2:x,y1:cby+cbh-6,y2:cby+cbh,stroke:'#000','stroke-width':1.5},cg);
 const t=mk('text',{x:x,y:1802,'font-size':34,'text-anchor':'middle'},cg);t.textContent=String(v);});
const ct=mk('text',{x:1751,y:1846,'font-size':37,'text-anchor':'middle'},cg);ct.textContent='Reflectivity [dBZ]';
</script>
</body></html>
